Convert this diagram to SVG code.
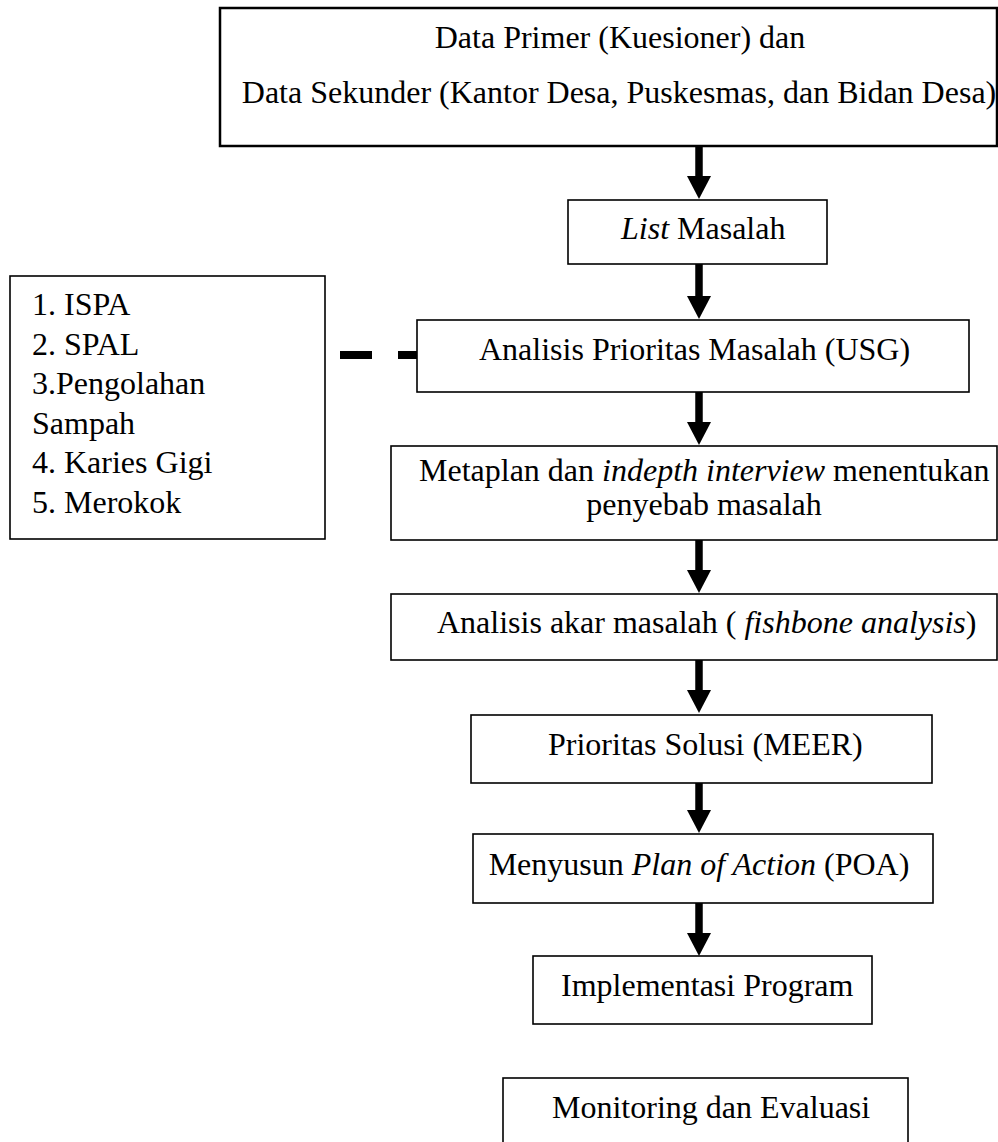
<svg xmlns="http://www.w3.org/2000/svg" width="998" height="1142" viewBox="0 0 998 1142">
<style>
.box{fill:#fff;stroke:#000;stroke-width:1.6}
.t{font-family:"Liberation Serif","Times New Roman",serif;font-size:32px;fill:#000}
.i{font-style:italic}
.c{text-anchor:middle}
.arr{stroke:#000;stroke-width:7.5;fill:none}
</style>
<defs>
<marker id="ah" viewBox="0 0 23 24" refX="0" refY="12" markerWidth="23" markerHeight="24" markerUnits="userSpaceOnUse" orient="auto">
<path d="M0,0 L23,12 L0,24 z" fill="#000"/>
</marker>
</defs>
<rect width="998" height="1142" fill="#fff"/>
<g id="connectors">
<line class="arr" x1="699" y1="146" x2="699" y2="176" marker-end="url(#ah)"/>
<line class="arr" x1="699" y1="264" x2="699" y2="296" marker-end="url(#ah)"/>
<line class="arr" x1="699" y1="392" x2="699" y2="422" marker-end="url(#ah)"/>
<line class="arr" x1="699" y1="540" x2="699" y2="570" marker-end="url(#ah)"/>
<line class="arr" x1="699" y1="660" x2="699" y2="690" marker-end="url(#ah)"/>
<line class="arr" x1="699" y1="783" x2="699" y2="810" marker-end="url(#ah)"/>
<line class="arr" x1="699" y1="903" x2="699" y2="933" marker-end="url(#ah)"/>
<line x1="340" y1="355" x2="417" y2="355" stroke="#000" stroke-width="8" stroke-dasharray="32 26"/>
</g>
<g id="data">
<rect class="box" x="220" y="8" width="777" height="138" style="stroke-width:2.5"/>
<text class="t c" x="620" y="48">Data Primer (Kuesioner) dan</text>
<text class="t c" x="619" y="103">Data Sekunder (Kantor Desa, Puskesmas, dan Bidan Desa)</text>
</g>
<g id="list">
<rect class="box" x="568" y="200" width="259" height="64"/>
<text class="t" x="621" y="239"><tspan class="i">List</tspan> Masalah</text>
</g>
<g id="daftar">
<rect class="box" x="10" y="276" width="315" height="263"/>
<text class="t" x="32" y="315">1. ISPA</text>
<text class="t" x="32" y="354.5">2. SPAL</text>
<text class="t" x="32" y="394">3.Pengolahan</text>
<text class="t" x="32" y="433.5">Sampah</text>
<text class="t" x="32" y="473">4. Karies Gigi</text>
<text class="t" x="32" y="512.5">5. Merokok</text>
</g>
<g id="usg">
<rect class="box" x="417" y="320" width="552" height="72"/>
<text class="t" x="479" y="360">Analisis Prioritas Masalah (USG)</text>
</g>
<g id="metaplan">
<rect class="box" x="391" y="446" width="606" height="94"/>
<text class="t" x="419" y="481">Metaplan dan <tspan class="i">indepth interview</tspan> menentukan</text>
<text class="t c" x="704" y="515">penyebab masalah</text>
</g>
<g id="fishbone">
<rect class="box" x="391" y="594" width="606" height="66"/>
<text class="t" x="437" y="633">Analisis akar masalah ( <tspan class="i">fishbone analysis</tspan>)</text>
</g>
<g id="meer">
<rect class="box" x="471" y="715" width="461" height="68"/>
<text class="t" x="548" y="755">Prioritas Solusi (MEER)</text>
</g>
<g id="poa">
<rect class="box" x="473" y="834" width="460" height="69"/>
<text class="t c" x="699" y="875">Menyusun <tspan class="i">Plan of Action</tspan> (POA)</text>
</g>
<g id="implementasi">
<rect class="box" x="533" y="956" width="339" height="68"/>
<text class="t" x="561" y="996">Implementasi Program</text>
</g>
<g id="monev">
<rect class="box" x="503" y="1078" width="405" height="80"/>
<text class="t" x="552" y="1118">Monitoring dan Evaluasi</text>
</g>
</svg>
